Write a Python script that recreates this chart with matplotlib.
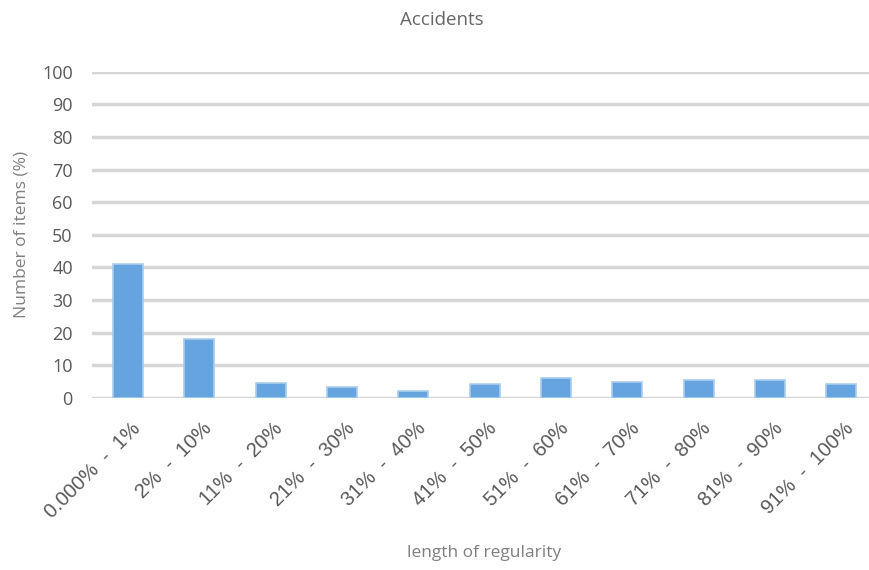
import numpy as np
import matplotlib.pyplot as plt
from matplotlib.transforms import ScaledTranslation

categories = ["0.000%  -  1%", "2%  -  10%", "11%  -  20%", "21%  -  30%",
              "31%  -  40%", "41%  -  50%", "51%  -  60%", "61%  -  70%",
              "71%  -  80%", "81%  -  90%", "91%  -  100%"]
values = [41, 18, 4.5, 3.2, 2.1, 4.4, 6.2, 4.8, 5.5, 5.6, 4.2]
y_ticks = list(range(0, 101, 10))

plt.rcParams["font.family"] = ["Open Sans", "DejaVu Sans"]
text_col = "#595959"

fig = plt.figure(figsize=(8.7, 5.7), dpi=100)
ax = fig.add_axes([0.106, 0.302, 0.902, 0.572])

x = np.arange(len(categories))
ax.bar(x, values, width=0.42, color="#66a4e0", edgecolor="#a9cdef",
       linewidth=1.2, zorder=3)

ax.set_ylim(0, 100)
ax.set_xlim(-0.5, len(categories) - 0.5)
ax.set_yticks(y_ticks)
ax.set_yticklabels([str(t) for t in y_ticks], fontsize=13, color=text_col)
ax.set_xticks(x)
ax.set_xticklabels(categories, rotation=45, ha="right", va="top",
                   rotation_mode="anchor", fontsize=14.5, color=text_col,
                   family="Liberation Sans")
ax.tick_params(axis="y", length=0, pad=14)
ax.tick_params(axis="x", length=0, pad=15)
# nudge the rotated labels so their ends sit just right of the bars
shift = ScaledTranslation(2 / 72, 0, fig.dpi_scale_trans)
for lbl in ax.get_xticklabels():
    lbl.set_transform(lbl.get_transform() + shift)

ax.grid(axis="y", color="#d6d6d6", linewidth=2.5, zorder=0)
for s in ax.spines.values():
    s.set_visible(False)

ax.set_ylabel("Number of items (%)", fontsize=12.5, color="#7f7f7f", labelpad=9)
fig.text(0.557, 0.03, "length of regularity", fontsize=12.5, color="#7f7f7f",
         ha="center", va="center")
fig.text(0.508, 0.965, "Accidents", fontsize=13.5, color="#666666",
         ha="center", va="center")

fig.savefig("out.png", dpi=100)
